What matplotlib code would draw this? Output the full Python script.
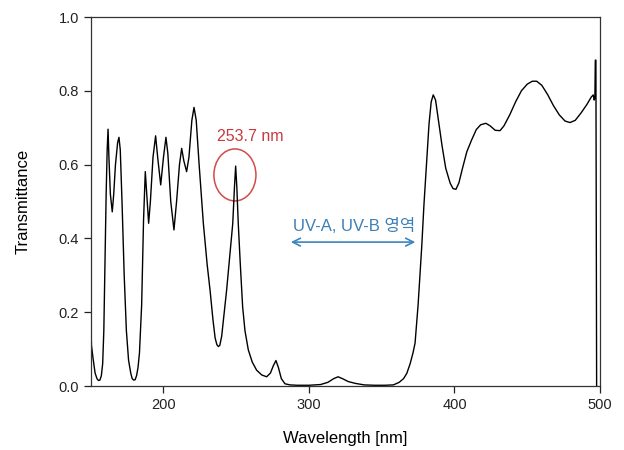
import numpy as np
import matplotlib.pyplot as plt
from matplotlib.patches import Ellipse

# spectrum
wl = [150, 150.5, 151.6, 153, 154.3, 155.3, 156.3, 157.3, 158.2, 159, 159.8, 160.6,
      161.3, 161.9, 162.5, 163.5, 164.8, 165.8, 167, 168.5, 169.4, 170.3, 171.5, 173,
      174.5, 176, 177.5, 178.5, 179.5, 180.5, 181.5, 182.5, 183.5, 185, 186.3, 187.5,
      188.5, 189.8, 191, 192.8, 194.6, 196, 198.1, 200, 201.7, 203, 205, 207.2, 209,
      211, 212.5, 214, 215.9, 217.5, 219.5, 221, 222.5, 224.5, 227.4, 230, 232, 234,
      235.5, 236.7, 237.7, 238.7, 240, 241.5, 243.4, 245.5, 247.6, 248.8, 249.6,
      250.4, 251.4, 252.8, 254.4, 256, 258.3, 261, 264, 267.5, 270.9, 273.5, 275.5,
      277.3, 279, 281, 283.5, 287, 292, 300, 308, 313, 317, 320, 323, 327, 332, 338,
      345, 352, 358, 362, 365, 367.2, 369.5, 371.5, 372.9, 375, 377.5, 379, 380.9,
      382.5, 384, 385.4, 387, 389, 391.5, 394, 397, 399, 401, 403, 405.5, 408.5,
      411.8, 415, 418, 421.6, 424.5, 428, 431.3, 434, 438, 442, 446, 450, 453.5,
      456.5, 460, 464, 468, 472, 476, 479.4, 483, 487, 491, 494, 495.4, 496, 496.5,
      496.8, 497.2, 497.5, 497.7]
trans = [0.19, 0.11, 0.075, 0.035, 0.02, 0.015, 0.016, 0.028, 0.06, 0.15, 0.33, 0.52,
         0.64, 0.696, 0.62, 0.52, 0.472, 0.52, 0.6, 0.66, 0.674, 0.64, 0.5, 0.3,
         0.15, 0.07, 0.035, 0.02, 0.016, 0.017, 0.028, 0.05, 0.09, 0.22, 0.45, 0.581,
         0.52, 0.441, 0.5, 0.62, 0.678, 0.62, 0.545, 0.62, 0.674, 0.63, 0.5, 0.423, 0.5,
         0.6, 0.644, 0.61, 0.581, 0.62, 0.72, 0.755, 0.72, 0.6, 0.441, 0.33, 0.26, 0.18,
         0.13, 0.112, 0.107, 0.11, 0.135, 0.19, 0.26, 0.35, 0.44, 0.54, 0.596,
         0.54, 0.44, 0.33, 0.215, 0.15, 0.098, 0.065, 0.043, 0.03, 0.025, 0.035, 0.055,
         0.069, 0.05, 0.02, 0.006, 0.003, 0.002, 0.002, 0.004, 0.01, 0.02, 0.025, 0.02,
         0.012, 0.007, 0.003, 0.002, 0.002, 0.003, 0.01, 0.02, 0.034, 0.06, 0.09, 0.116,
         0.22, 0.378, 0.49, 0.61, 0.71, 0.77, 0.789, 0.775, 0.72, 0.65, 0.59, 0.55, 0.535,
         0.533, 0.55, 0.59, 0.635, 0.667, 0.695, 0.708, 0.712, 0.705, 0.693, 0.692, 0.705,
         0.735, 0.77, 0.8, 0.818, 0.826, 0.826, 0.815, 0.79, 0.76, 0.735, 0.718, 0.714,
         0.72, 0.74, 0.763, 0.783, 0.789, 0.775, 0.78, 0.883, 0.883, 0.4, 0.0]

xticks = [200, 300, 400, 500]
yticks = [0.0, 0.2, 0.4, 0.6, 0.8, 1.0]

peak_label = "253.7 nm"
band_label = "UV-A, UV-B 영역"
peak_pos = (249.1, 0.572)
band_range = (285.6, 375.0)

plt.rcParams['font.family'] = ['Liberation Sans', 'Noto Sans CJK KR']

fig = plt.figure(figsize=(6.24, 4.5), dpi=100)
ax = fig.add_axes([0.1454, 0.1422, 0.8161, 0.82])

ax.plot(wl, trans, color='black', lw=1.0)

ax.set_xlim(150, 500)
ax.set_ylim(0, 1.0)
ax.set_xticks(xticks)
ax.set_yticks(yticks)
ax.set_yticklabels(["%.1f" % v for v in yticks])
ax.tick_params(direction='out', length=5, width=0.9, labelsize=10.5, colors='#222222')
for s in ax.spines.values():
    s.set_linewidth(0.9)
    s.set_color('#333333')

ax.set_xlabel("Wavelength [nm]", fontsize=12, labelpad=14)
ax.set_ylabel("Transmittance", fontsize=12, labelpad=20)

# annotations
ax.add_patch(Ellipse(peak_pos, width=28.9, height=0.141, fill=False,
                     edgecolor='#d24a4a', lw=1.1))
ax.text(259.8, 0.677, peak_label, color='#c8383c', fontsize=11.5,
        ha='center', va='center')

ax.annotate('', xy=(band_range[1], 0.39), xytext=(band_range[0], 0.39),
            arrowprops=dict(arrowstyle='<->', color='#3c85bd', lw=1.2,
                            mutation_scale=14))
ax.text(sum(band_range) / 2 + 1, 0.434, band_label, color='#3c7fb5', fontsize=12,
        ha='center', va='center', family=['Liberation Sans', 'Noto Sans CJK KR'])

fig.savefig("out.png", dpi=100)
